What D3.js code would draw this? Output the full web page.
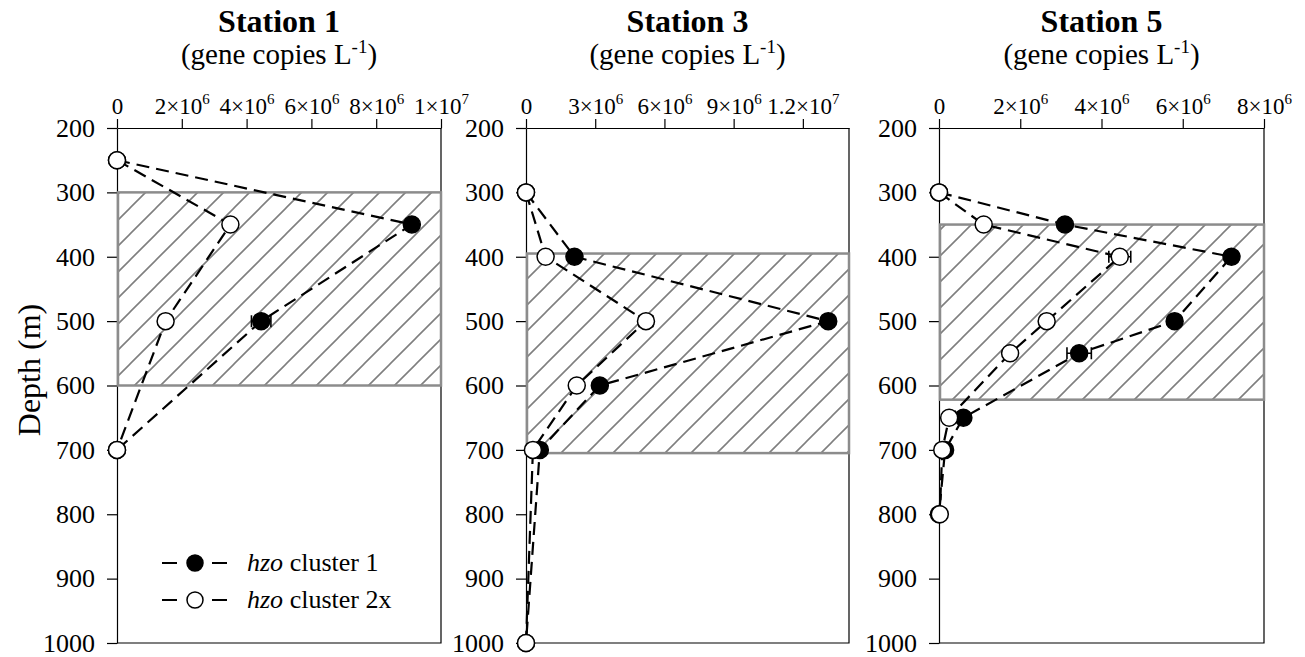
<!DOCTYPE html>
<html>
<head>
<meta charset="utf-8">
<script src="https://cdn.jsdelivr.net/npm/d3@7"></script>
<style>
  body { margin: 0; background: #fff; }
  text { font-family: "Liberation Serif", "Times New Roman", serif; fill: #000; }
</style>
</head>
<body>
<svg width="1305" height="657"></svg>
<script>
// ---- data ----
const stations = ["Station 1", "Station 3", "Station 5"];
const xMax = [1e7, 1.4e7, 8e6];
const xTicks = [
  [0, 2e6, 4e6, 6e6, 8e6, 1e7],
  [0, 3e6, 6e6, 9e6, 1.2e7],
  [0, 2e6, 4e6, 6e6, 8e6]
];
const xTickLabels = [
  [["0", ""], ["2×10", "6"], ["4×10", "6"], ["6×10", "6"], ["8×10", "6"], ["1×10", "7"]],
  [["0", ""], ["3×10", "6"], ["6×10", "6"], ["9×10", "6"], ["1.2×10", "7"]],
  [["0", ""], ["2×10", "6"], ["4×10", "6"], ["6×10", "6"], ["8×10", "6"]]
];
const depthTicks = [200, 300, 400, 500, 600, 700, 800, 900, 1000];
// shaded (hatched) depth band per station
const bandTop = [300, 395, 350];
const bandBottom = [600, 705, 622];

// station 1
const depths1 = [250, 350, 500, 700];
const st1Cluster1 = [0, 9.1e6, 4.45e6, 0];
const st1Cluster1Err = [0, 0, 0.3e6, 0];
const st1Cluster2 = [0, 3.5e6, 1.5e6, 0];
const st1Cluster2Err = [0, 0, 0, 0];
// station 3
const depths3 = [300, 400, 500, 600, 700, 1000];
const st3Cluster1 = [0, 2.1e6, 13.1e6, 3.2e6, 0.6e6, 0];
const st3Cluster1Err = [0, 0, 0, 0, 0, 0];
const st3Cluster2 = [0, 0.85e6, 5.2e6, 2.2e6, 0.3e6, 0];
const st3Cluster2Err = [0, 0, 0.3e6, 0, 0, 0];
// station 5
const depths5 = [300, 350, 400, 500, 550, 650, 700, 800];
const st5Cluster1 = [0, 3.1e6, 7.2e6, 5.8e6, 3.45e6, 0.6e6, 0.15e6, 0];
const st5Cluster1Err = [0, 0, 0.15e6, 0, 0.3e6, 0, 0, 0];
const st5Cluster2 = [0, 1.1e6, 4.45e6, 2.65e6, 1.75e6, 0.25e6, 0.08e6, 0.02e6];
const st5Cluster2Err = [0, 0, 0.27e6, 0, 0, 0, 0, 0];

const allDepths = [depths1, depths3, depths5];
const cluster1 = [st1Cluster1, st3Cluster1, st5Cluster1];
const cluster1Err = [st1Cluster1Err, st3Cluster1Err, st5Cluster1Err];
const cluster2 = [st1Cluster2, st3Cluster2, st5Cluster2];
const cluster2Err = [st1Cluster2Err, st3Cluster2Err, st5Cluster2Err];

const legendNames = ["cluster 1", "cluster 2x"];

// ---- layout ----
const panelX = [[117, 441], [526, 849], [939, 1264]];
const yTop = 128, yBot = 643;

const svg = d3.select("svg");

// hatch pattern
const defs = svg.append("defs");
defs.append("pattern")
  .attr("id", "hatch")
  .attr("patternUnits", "userSpaceOnUse")
  .attr("width", 26).attr("height", 26)
  .append("path")
  .attr("d", "M-2,2 L2,-2 M0,26 L26,0 M24,28 L28,24")
  .attr("stroke", "#7f7f7f")
  .attr("stroke-width", 1.6);

const yScale = d3.scaleLinear().domain([200, 1000]).range([yTop, yBot]);

function drawSeries(g, xScale, depths, vals, errs, filled) {
  const line = d3.line()
    .x(function(d, i) { return xScale(vals[i]); })
    .y(function(d) { return yScale(d); });

  g.append("path")
    .attr("d", line(depths))
    .attr("fill", "none")
    .attr("stroke", "#000")
    .attr("stroke-width", 2.2)
    .attr("stroke-dasharray", "13,7");

  // error bars
  depths.forEach(function(d, i) {
    if (errs[i] > 0) {
      const x0 = xScale(vals[i] - errs[i]), x1 = xScale(vals[i] + errs[i]), yy = yScale(d);
      g.append("path")
        .attr("d", "M" + x0 + "," + yy + "H" + x1 +
                   "M" + x0 + "," + (yy - 6) + "V" + (yy + 6) +
                   "M" + x1 + "," + (yy - 6) + "V" + (yy + 6))
        .attr("stroke", "#000")
        .attr("stroke-width", 1.6)
        .attr("fill", "none");
    }
  });

  g.selectAll(null)
    .data(depths)
    .enter()
    .append("circle")
    .attr("cx", function(d, i) { return xScale(vals[i]); })
    .attr("cy", function(d) { return yScale(d); })
    .attr("r", 8.5)
    .attr("fill", filled ? "#000" : "#fff")
    .attr("stroke", "#000")
    .attr("stroke-width", 1.5);
}

for (let p = 0; p < 3; p++) {
  const x0 = panelX[p][0], x1 = panelX[p][1];
  const xScale = d3.scaleLinear().domain([0, xMax[p]]).range([x0, x1]);
  const g = svg.append("g");

  // title and unit
  const cx = (x0 + x1) / 2;
  g.append("text")
    .attr("x", cx).attr("y", 32)
    .attr("text-anchor", "middle")
    .attr("font-size", 32)
    .attr("font-weight", "bold")
    .text(stations[p]);
  const sub = g.append("text")
    .attr("x", cx).attr("y", 64)
    .attr("text-anchor", "middle")
    .attr("font-size", 29);
  sub.append("tspan").text("(gene copies L");
  sub.append("tspan").attr("font-size", 19).attr("dy", -11).text("-1");
  sub.append("tspan").attr("dy", 11).text(")");

  // frame: right and bottom edges
  g.append("path")
    .attr("d", "M" + x1 + "," + yTop + "V" + yBot + "H" + x0)
    .attr("stroke", "#000")
    .attr("stroke-width", 1.2)
    .attr("fill", "none");

  // top axis
  const topAxis = g.append("g")
    .attr("transform", "translate(0," + yTop + ")")
    .call(d3.axisTop(xScale).tickValues(xTicks[p]).tickSize(9).tickSizeOuter(0).tickPadding(5));
  topAxis.selectAll("text").each(function(d, i) {
    const t = d3.select(this).text("");
    t.attr("font-size", 23).attr("font-family", "Liberation Serif");
    t.append("tspan").text(xTickLabels[p][i][0]);
    if (xTickLabels[p][i][1]) {
      t.append("tspan").attr("font-size", 15).attr("dy", -10).text(xTickLabels[p][i][1]);
    }
  });

  // left axis
  g.append("g")
    .attr("transform", "translate(" + x0 + ",0)")
    .call(d3.axisLeft(yScale).tickValues(depthTicks).tickFormat(d3.format("d"))
      .tickSize(10).tickSizeOuter(0).tickPadding(12))
    .selectAll("text")
    .attr("font-size", 26)
    .attr("font-family", "Liberation Serif");

  g.selectAll(".domain, .tick line").attr("stroke", "#000").attr("stroke-width", 1.2);

  // hatched band
  g.append("rect")
    .attr("x", x0 + 1)
    .attr("y", yScale(bandTop[p]))
    .attr("width", x1 - x0 - 1)
    .attr("height", yScale(bandBottom[p]) - yScale(bandTop[p]))
    .attr("fill", "url(#hatch)")
    .attr("stroke", "#8c8c8c")
    .attr("stroke-width", 2.5);

  drawSeries(g, xScale, allDepths[p], cluster1[p], cluster1Err[p], true);
  drawSeries(g, xScale, allDepths[p], cluster2[p], cluster2Err[p], false);
}

// y axis title
svg.append("text")
  .attr("transform", "translate(40,370) rotate(-90)")
  .attr("text-anchor", "middle")
  .attr("font-size", 32)
  .text("Depth (m)");

// legend
const legendY = [563, 600];
legendNames.forEach(function(name, i) {
  const lg = svg.append("g");
  lg.append("line")
    .attr("x1", 162).attr("x2", 227)
    .attr("y1", legendY[i]).attr("y2", legendY[i])
    .attr("stroke", "#000")
    .attr("stroke-width", 2)
    .attr("stroke-dasharray", "15,10");
  lg.append("circle")
    .attr("cx", 195).attr("cy", legendY[i])
    .attr("r", 8)
    .attr("fill", i === 0 ? "#000" : "#fff")
    .attr("stroke", "#000")
    .attr("stroke-width", 1.5);
  const t = lg.append("text")
    .attr("x", 247).attr("y", legendY[i] + 8)
    .attr("font-size", 26);
  t.append("tspan").attr("font-style", "italic").text("hzo");
  t.append("tspan").text(" " + name);
});
</script>
</body>
</html>
